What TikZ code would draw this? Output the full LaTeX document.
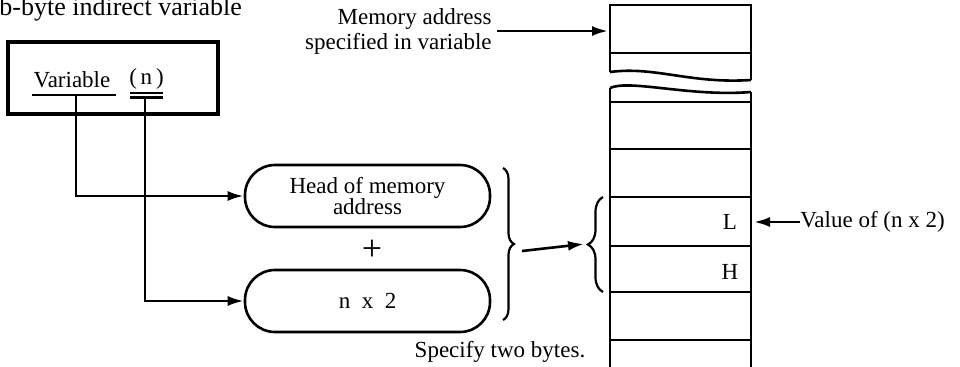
\documentclass[tikz,border=0pt]{standalone}
\usepackage{fontspec}
\setmainfont{Liberation Serif}
\usetikzlibrary{arrows.meta,decorations.pathreplacing}
\tikzset{
  line/.style={line width=1.3pt},
  arr/.style={line width=1.3pt, -{Latex[length=8pt,width=5pt]}},
  txt/.style={inner sep=0pt, font=\fontsize{11.5}{11.5}\selectfont},
  pill/.style={draw, line width=1.3pt, rounded corners=15pt, minimum width=122.5pt,
    minimum height=31pt, inner sep=0pt, align=center,
    font=\fontsize{11.5}{11.5}\selectfont},
  bracebig/.style={line width=1.1pt, decorate, decoration={brace, amplitude=#1}}
}
\begin{document}
\begin{tikzpicture}[x=0.5pt, y=-0.5pt]
\useasboundingbox (0,0) rectangle (960,366);
\clip (0,0) rectangle (960,366);

% heading
\node[anchor=base west, inner sep=0pt, font=\fontsize{13}{15}\selectfont] (title) at (-1,15) {b-byte indirect variable};

% variable with its index
\node[draw, line width=1.6pt, minimum width=105pt, minimum height=36pt, inner sep=0pt] (varbox) at (113,78) {};
\node[txt] (varname) at (72,80) {Variable};
\node[txt] (idx) at (146.5,79) {(\,n\,)};
\draw[line] (32,95) -- (116,95);
\draw[line] (130,93) -- (163,93);
\draw[line] (130,97.5) -- (163,97.5);
\coordinate (varfoot) at (76,95);
\coordinate (nfoot) at (145,97.5);

% address computation
\node[pill] (head) at (367.5,196) {Head of memory\\[-1pt]address};
\node[inner sep=0pt, font=\fontsize{18}{18}\selectfont] (plus) at (372,250) {+};
\node[pill] (mult) at (367.5,301) {n\hspace{.5em}x\hspace{.5em}2};

\draw[arr] (varfoot) |- (head.west);
\draw[arr] (nfoot) |- (mult.west);

% braces and the arrow between them
\draw[bracebig=5.5pt] (503,168) -- (503,320);
\draw[bracebig=7.5pt] (603,292) -- (603,197);
\coordinate (sumtip) at (522,251);
\coordinate (bytetip) at (584,244);
\draw[arr] (sumtip) -- (bytetip);

\node[txt] (spec) at (500,352) {Specify two bytes.};

% memory column with a break near the top
\draw[line] (610,72) -- (610,5) -- (751,5) -- (751,80);
\draw[line] (610,53) -- (751,53);
\draw[line] (610,72) .. controls (655,66) and (690,84) .. (751,80);
\draw[line] (610,88) .. controls (630,79) and (690,97) .. (751,92);
\draw[line] (610,88) -- (610,368);
\draw[line] (751,92) -- (751,368);
\foreach \yy in {102,149,197,246,292,340}
  \draw[line] (610,\yy) -- (751,\yy);

\node[txt] (lo) at (730,222) {L};
\node[txt] (hi) at (730,272) {H};

% pointer labels
\node[txt, anchor=east, align=right] (memaddr) at (492,31) {Memory address\\[1pt]specified in variable};
\coordinate (memfrom) at (497,31);
\coordinate (memtop) at (608,31);
\draw[arr] (memfrom) -- (memtop);

\node[txt, anchor=west] (val) at (800,222) {Value of (n x 2)};
\coordinate (lcell) at (754,222);
\draw[arr] (val.west) -- (lcell);
\end{tikzpicture}
\end{document}
